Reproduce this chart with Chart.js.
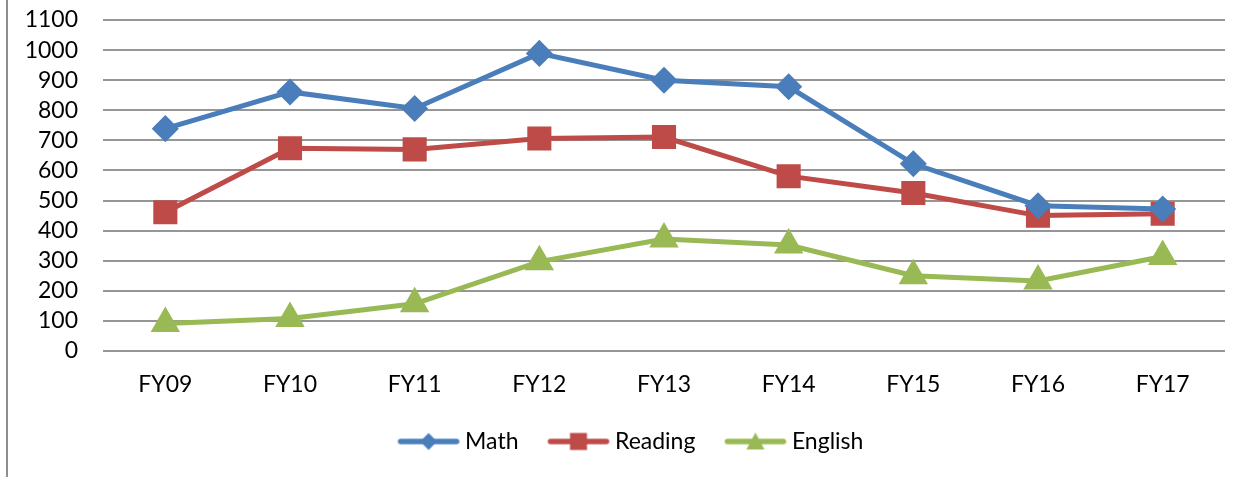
<!DOCTYPE html>
<html lang="en">
<head>
<meta charset="utf-8">
<script src="https://cdn.jsdelivr.net/npm/chart.js@4.4.1/dist/chart.umd.min.js"></script>
<style>
  html, body { margin: 0; padding: 0; background: #fff; }
  #wrap { position: relative; width: 1250px; height: 477px; }
</style>
</head>
<body>
<div id="wrap"><canvas id="chart" width="1250" height="477"></canvas></div>
<script>
// chart data
var categories = ['FY09', 'FY10', 'FY11', 'FY12', 'FY13', 'FY14', 'FY15', 'FY16', 'FY17'];
var mathVals = [739, 861, 806, 989, 900, 878, 622, 483, 472];
var readingVals = [461, 674, 670, 706, 711, 581, 525, 450, 456];
var englishVals = [91, 108, 157, 297, 372, 352, 250, 233, 314];
var yMax = 1100;
var yStep = 100;

Chart.defaults.font.family = 'Lato, "Open Sans", sans-serif';
Chart.defaults.font.size = 23;
Chart.defaults.color = '#000';

// little canvas with line + marker, used as legend symbol
function legendSymbol(color, style) {
  var c = document.createElement('canvas');
  c.width = 64; c.height = 24;
  var ctx = c.getContext('2d');
  ctx.strokeStyle = color;
  ctx.lineWidth = 5.5;
  ctx.lineCap = 'round';
  ctx.beginPath(); ctx.moveTo(4, 12); ctx.lineTo(60, 12); ctx.stroke();
  ctx.fillStyle = color;
  ctx.beginPath();
  if (style === 'rectRot') {
    ctx.moveTo(32, 3.5); ctx.lineTo(40.5, 12); ctx.lineTo(32, 20.5); ctx.lineTo(23.5, 12);
  } else if (style === 'rect') {
    ctx.rect(23.5, 3.5, 17, 17);
  } else {
    ctx.moveTo(32, 3); ctx.lineTo(41, 20); ctx.lineTo(23, 20);
  }
  ctx.closePath(); ctx.fill();
  return c;
}

var frame = {
  id: 'frame',
  afterLayout: function (chart) {
    // legend sits a bit right of centre in the original
    chart.legend.left += 42;
  },
  beforeDraw: function (chart) {
    var ctx = chart.ctx;
    ctx.save();
    ctx.fillStyle = '#8e8e8e';
    ctx.fillRect(6, 0, 2, chart.height);
    ctx.restore();
  }
};

var chart = new Chart(document.getElementById('chart').getContext('2d'), {
  type: 'line',
  data: {
    labels: categories,
    datasets: [
      {
        label: 'Math', data: mathVals,
        borderColor: '#4A7EBB', backgroundColor: '#4A7EBB',
        borderWidth: 5, pointStyle: 'rectRot', pointRadius: 10, pointHoverRadius: 10
      },
      {
        label: 'Reading', data: readingVals,
        borderColor: '#BE4B48', backgroundColor: '#BE4B48',
        borderWidth: 5, pointStyle: 'rect', pointRadius: 13.5, pointHoverRadius: 13.5
      },
      {
        label: 'English', data: englishVals,
        borderColor: '#98B954', backgroundColor: '#98B954',
        borderWidth: 5, pointStyle: 'triangle', pointRadius: 12, pointHoverRadius: 12
      }
    ]
  },
  options: {
    responsive: false,
    animation: false,
    layout: { padding: { top: 20, right: 25, left: 0, bottom: 14 } },
    plugins: {
      tooltip: { enabled: false },
      legend: {
        position: 'bottom',
        labels: {
          usePointStyle: true,
          pointStyleWidth: 50,
          boxHeight: 22,
          padding: 35,
          generateLabels: function (chart) {
            return chart.data.datasets.map(function (ds, i) {
              return {
                text: ds.label,
                pointStyle: legendSymbol(ds.borderColor, ds.pointStyle),
                fillStyle: ds.borderColor,
                strokeStyle: ds.borderColor,
                lineWidth: 0,
                hidden: false,
                datasetIndex: i
              };
            });
          }
        }
      }
    },
    scales: {
      x: {
        offset: true,
        grid: { display: false },
        border: { display: false },
        ticks: { padding: 12, maxRotation: 0 },
        afterFit: function (scale) { scale.height = 44; }
      },
      y: {
        min: 0, max: yMax,
        grid: { color: '#969696', lineWidth: 2, drawTicks: false },
        border: { display: false },
        ticks: {
          stepSize: yStep, autoSkip: false, padding: 25,
          callback: function (v) { return String(v); }
        },
        afterFit: function (scale) {
          scale.width = 103;
          scale.paddingTop = 14;
          scale.paddingBottom = 14;
        }
      }
    }
  },
  plugins: [frame]
});
</script>
</body>
</html>
